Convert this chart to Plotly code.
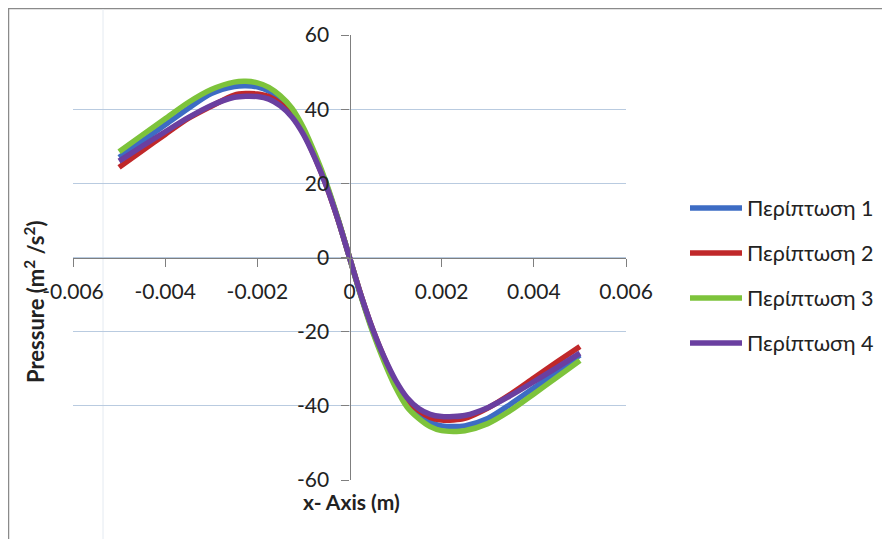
import plotly.graph_objects as go

# ---- data ----
x_vals = [-0.005, -0.0045, -0.004, -0.0035, -0.003, -0.0025, -0.00225, -0.002,
          -0.00175, -0.0015, -0.00125, -0.001, -0.00075, -0.0005, -0.00025, 0.0,
          0.00025, 0.0005, 0.00075, 0.001, 0.00125, 0.0015, 0.00175, 0.002,
          0.00225, 0.0025, 0.003, 0.0035, 0.004, 0.0045, 0.005]

case1 = [27.0, 31.4, 35.8, 40.2, 44.2, 46.1, 46.3, 46.0, 44.9, 42.7, 39.4, 34.3, 27.5, 19.6, 10.3, 0.0,
         -10.3, -19.6, -27.5, -34.2, -39.2, -42.4, -44.4, -45.4, -45.6, -45.4, -43.4, -39.5, -35.2, -30.8, -26.3]
case2 = [24.3, 28.8, 33.2, 37.5, 40.8, 43.8, 44.2, 44.1, 43.4, 41.5, 38.4, 33.6, 27.0, 19.3, 10.2, 0.0,
         -10.2, -19.3, -27.0, -33.6, -38.3, -41.3, -43.1, -43.8, -43.8, -43.4, -40.6, -36.8, -32.5, -28.2, -24.0]
case3 = [28.5, 33.0, 37.4, 41.8, 45.3, 47.3, 47.5, 47.1, 45.9, 43.6, 40.3, 35.0, 28.0, 20.0, 10.5, 0.0,
         -10.5, -20.0, -28.0, -35.0, -40.3, -43.4, -45.6, -46.7, -46.9, -46.7, -44.8, -41.2, -36.8, -32.3, -27.8]
case4 = [26.0, 30.0, 33.9, 37.7, 41.0, 43.2, 43.5, 43.4, 42.7, 40.9, 37.9, 33.2, 26.8, 19.2, 10.2, 0.0,
         -10.2, -19.2, -26.8, -33.1, -37.8, -40.7, -42.3, -42.9, -42.9, -42.6, -40.5, -37.2, -33.5, -29.7, -25.8]

series_names = ["Περίπτωση 1", "Περίπτωση 2", "Περίπτωση 3", "Περίπτωση 4"]
series_values = [case1, case2, case3, case4]
series_colors = ["#3D6CC4", "#C0282A", "#7DC33B", "#6A3FA0"]

x_ticks = [-0.006, -0.004, -0.002, 0, 0.002, 0.004, 0.006]
x_tick_text = ["-0.006", "-0.004", "-0.002", "0", "0.002", "0.004", "0.006"]
y_ticks = [-60, -40, -20, 0, 20, 40, 60]
y_tick_text = ["-60", "-40", "-20", "0", "20", "40", "60"]

FONT = "Lato, 'Open Sans', 'Noto Sans', sans-serif"
TXT = "#222222"

fig = go.Figure()
for name, vals, col in zip(series_names, series_values, series_colors):
    fig.add_trace(go.Scatter(
        x=x_vals, y=vals, name=name, mode="lines", showlegend=False,
        line=dict(color=col, width=5.5, shape="spline", smoothing=0.8),
    ))

# page offset of the figure div (body margin)
OFF = 8
W, H = 890, 539
# plot area in page pixels: left 73, right 626, top 35, bottom 480
L, R, T, B = 73 - OFF, 626 - OFF, 35 - OFF, 480 - OFF
pw, ph = R - L, B - T


def px(xp):
    return (xp - OFF - L) / pw


def py(yp):
    return (B - (yp - OFF)) / ph


annotations = [
    dict(text="<b>Pressure (m<sup>2</sup> /s<sup>2</sup>)</b>", xref="paper", yref="paper",
         x=px(34), y=py(302), textangle=-90, showarrow=False,
         font=dict(family=FONT, size=22, color=TXT),
         xanchor="center", yanchor="middle"),
    dict(text="<b>x- Axis (m)</b>", xref="paper", yref="paper",
         x=px(351), y=py(501), showarrow=False,
         font=dict(family=FONT, size=21, color=TXT),
         xanchor="center", yanchor="middle"),
]
shapes = [
    dict(type="rect", xref="paper", yref="paper",
         x0=px(8.5), x1=px(897.5), y0=py(546.5), y1=py(8.5),
         line=dict(color="#8a8a8a", width=1.5), layer="below"),
    dict(type="line", xref="paper", yref="paper",
         x0=px(103), x1=px(103), y0=py(546), y1=py(9),
         line=dict(color="#E4EAF1", width=1), layer="below"),
]

# legend (Excel-style long line keys)
legend_y = [208, 253, 298, 343]
for name, col, ly in zip(series_names, series_colors, legend_y):
    shapes.append(dict(type="line", xref="paper", yref="paper",
                       x0=px(690), x1=px(742), y0=py(ly), y1=py(ly),
                       line=dict(color=col, width=5.5)))
    annotations.append(dict(text=name, xref="paper", yref="paper",
                            x=px(745), y=py(ly), showarrow=False,
                            xanchor="left", yanchor="middle",
                            font=dict(family=FONT, size=21.5, color=TXT)))

fig.update_layout(
    width=W, height=H,
    margin=dict(l=L, r=W - R, t=T, b=H - B),
    paper_bgcolor="white", plot_bgcolor="white",
    font=dict(family=FONT, size=21, color=TXT),
    showlegend=False,
    xaxis=dict(
        range=[-0.006, 0.006], domain=[0, 1], anchor="free", position=0.5,
        showgrid=False, zeroline=False, showline=True, linecolor="#7f7f7f", linewidth=1.2,
        ticks="outside", ticklen=8, tickcolor="#7f7f7f",
        tickvals=x_ticks, ticktext=x_tick_text, ticklabelstandoff=7,
        tickfont=dict(family=FONT, size=21, color=TXT),
    ),
    yaxis=dict(
        range=[-60, 60], domain=[0, 1], anchor="free", position=0.5,
        showgrid=True, gridcolor="#B9CBE0", gridwidth=1,
        zeroline=False, showline=True, linecolor="#7f7f7f", linewidth=1.2,
        ticks="outside", ticklen=8, tickcolor="#7f7f7f",
        tickvals=y_ticks, ticktext=y_tick_text, ticklabelstandoff=8,
        tickfont=dict(family=FONT, size=21, color=TXT),
    ),
    annotations=annotations,
    shapes=shapes,
)

fig.write_html("out.html")
